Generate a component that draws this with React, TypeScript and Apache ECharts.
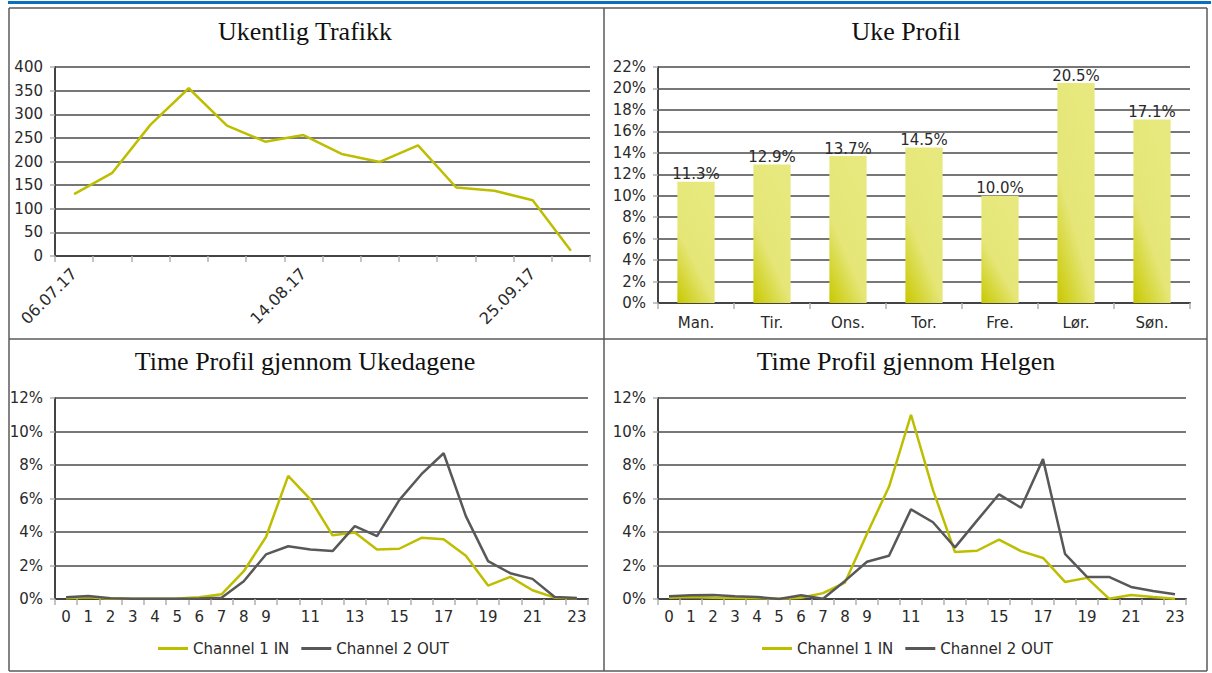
import React, { useEffect, useRef } from 'react';
import * as echarts from 'echarts';

// ---------- data ----------
const weekDates = ['06.07.17', '10.07.17', '17.07.17', '24.07.17', '31.07.17', '07.08.17', '14.08.17', '21.08.17', '28.08.17', '04.09.17', '11.09.17', '18.09.17', '25.09.17', '02.10.17'];
const weeklyTraffic = [131, 176, 278, 355, 276, 242, 256, 216, 199, 234, 145, 138, 118, 11];

const weekdays = ['Man.', 'Tir.', 'Ons.', 'Tor.', 'Fre.', 'Lør.', 'Søn.'];
const weekProfile = [11.3, 12.9, 13.7, 14.5, 10.0, 20.5, 17.1];

const hours = ['0', '1', '2', '3', '4', '5', '6', '7', '8', '9', '10', '11', '12', '13', '14', '15', '16', '17', '18', '19', '20', '21', '22', '23'];
const weekdayIn = [0.05, 0.1, 0.02, 0.02, 0.02, 0.03, 0.1, 0.28, 1.66, 3.7, 7.35, 5.95, 3.8, 3.97, 2.95, 3.0, 3.65, 3.57, 2.58, 0.8, 1.32, 0.52, 0.08, 0.04];
const weekdayOut = [0.1, 0.18, 0.04, 0.02, 0.02, 0.02, 0.03, 0.08, 1.06, 2.66, 3.15, 2.95, 2.86, 4.35, 3.75, 5.9, 7.45, 8.7, 4.95, 2.26, 1.54, 1.2, 0.12, 0.06];
const weekendIn = [0.08, 0.12, 0.08, 0.06, 0.05, 0.02, 0.08, 0.35, 0.98, 3.9, 6.7, 11.0, 6.5, 2.8, 2.88, 3.55, 2.86, 2.45, 1.02, 1.26, 0.02, 0.24, 0.12, 0.02];
const weekendOut = [0.16, 0.22, 0.24, 0.16, 0.12, 0.0, 0.22, 0.02, 1.08, 2.22, 2.58, 5.35, 4.58, 3.08, 4.68, 6.25, 5.45, 8.35, 2.7, 1.32, 1.32, 0.72, 0.48, 0.28];

const seriesNames = ['Channel 1 IN', 'Channel 2 OUT'];
const titles = ['Ukentlig Trafikk', 'Uke Profil', 'Time Profil gjennom Ukedagene', 'Time Profil gjennom Helgen'];

// ---------- styles ----------
const FONT = 'DejaVu Sans';
const YELLOW = '#bebe00';
const GRAY = '#585858';
const labelStyle = { color: '#2a2a2a', fontSize: 15, fontFamily: FONT };
const splitLine = { show: true, lineStyle: { color: '#4a4a4a', width: 1.5 } };
const axisLineDark = { show: true, lineStyle: { color: '#444', width: 2 } };
const tickGray = { show: true, length: 6, lineStyle: { color: '#b0b0b0', width: 1.5 } };

const grids = [
  { left: 55, top: 67, width: 535, height: 189 },
  { left: 658, top: 67, width: 532, height: 236 },
  { left: 55, top: 398, width: 533, height: 201 },
  { left: 658, top: 398, width: 528, height: 201 },
];

const hourInterval = (i: number) => i <= 9 || i % 2 === 1;

function buildOption() {
  const titleGraphics = [
    { x: 305, y: 18, text: titles[0] },
    { x: 906, y: 18, text: titles[1] },
    { x: 305, y: 348, text: titles[2] },
    { x: 906, y: 348, text: titles[3] },
  ].map((t) => ({
    type: 'text',
    x: t.x,
    y: t.y,
    silent: true,
    style: {
      text: t.text,
      fill: '#111',
      font: '26px "Liberation Serif"',
      textAlign: 'center',
      textVerticalAlign: 'top',
    },
  }));

  const borderColor = '#5a5a5a';
  const lines = [
    [9, 8, 1207, 8],
    [9, 8, 9, 671],
    [1207, 8, 1207, 671],
    [604, 8, 604, 671],
    [9, 339, 1207, 339],
    [9, 671, 1207, 671],
  ].map(([x1, y1, x2, y2]) => ({
    type: 'line',
    silent: true,
    shape: { x1, y1, x2, y2 },
    style: { stroke: borderColor, lineWidth: 1.5 },
  }));

  const barGradient = new echarts.graphic.LinearGradient(0.6, 0, 0, 1, [
    { offset: 0, color: '#e7e97e' },
    { offset: 0.55, color: '#e5e677' },
    { offset: 1, color: '#c8c800' },
  ]);

  return {
    animation: false,
    backgroundColor: '#ffffff',
    grid: grids.map((g) => ({ ...g, containLabel: false })),
    graphic: [
      {
        type: 'rect',
        silent: true,
        shape: { x: 8, y: 1, width: 1203, height: 3 },
        style: { fill: '#0a6fbd' },
      },
      ...lines,
      ...titleGraphics,
    ],
    legend: [
      {
        left: 153,
        top: 636,
        data: seriesNames,
        icon: 'rect',
        itemWidth: 30,
        itemHeight: 3,
        itemGap: 12,
        textStyle: { ...labelStyle },
      },
      {
        left: 757,
        top: 636,
        data: seriesNames,
        icon: 'rect',
        itemWidth: 30,
        itemHeight: 3,
        itemGap: 12,
        textStyle: { ...labelStyle },
      },
    ],
    xAxis: [
      {
        type: 'category',
        gridIndex: 0,
        data: weekDates,
        boundaryGap: true,
        axisLine: axisLineDark,
        axisTick: { ...tickGray, interval: 0 },
        axisLabel: { ...labelStyle, fontSize: 16, rotate: 45, interval: 5, margin: 15 },
      },
      {
        type: 'category',
        gridIndex: 1,
        data: weekdays,
        axisLine: axisLineDark,
        axisTick: { ...tickGray, interval: 0 },
        axisLabel: { ...labelStyle, interval: 0, margin: 12 },
      },
      {
        type: 'category',
        gridIndex: 2,
        data: hours,
        axisLine: axisLineDark,
        axisTick: { ...tickGray, interval: 0 },
        axisLabel: { ...labelStyle, interval: hourInterval, margin: 10 },
      },
      {
        type: 'category',
        gridIndex: 3,
        data: hours,
        axisLine: axisLineDark,
        axisTick: { ...tickGray, interval: 0 },
        axisLabel: { ...labelStyle, interval: hourInterval, margin: 10 },
      },
    ],
    yAxis: [
      {
        type: 'value',
        gridIndex: 0,
        min: 0,
        max: 400,
        interval: 50,
        axisLine: axisLineDark,
        axisTick: { ...tickGray, length: 5 },
        axisLabel: { ...labelStyle, margin: 12 },
        splitLine,
      },
      {
        type: 'value',
        gridIndex: 1,
        min: 0,
        max: 22,
        interval: 2,
        axisLine: axisLineDark,
        axisTick: { ...tickGray, length: 5 },
        axisLabel: { ...labelStyle, margin: 12, formatter: '{value}%' },
        splitLine,
      },
      {
        type: 'value',
        gridIndex: 2,
        min: 0,
        max: 12,
        interval: 2,
        axisLine: axisLineDark,
        axisTick: { ...tickGray, length: 5 },
        axisLabel: { ...labelStyle, margin: 12, formatter: '{value}%' },
        splitLine,
      },
      {
        type: 'value',
        gridIndex: 3,
        min: 0,
        max: 12,
        interval: 2,
        axisLine: axisLineDark,
        axisTick: { ...tickGray, length: 5 },
        axisLabel: { ...labelStyle, margin: 12, formatter: '{value}%' },
        splitLine,
      },
    ],
    series: [
      {
        type: 'line',
        name: 'Ukentlig Trafikk',
        xAxisIndex: 0,
        yAxisIndex: 0,
        data: weeklyTraffic,
        symbol: 'none',
        lineStyle: { color: YELLOW, width: 2.5 },
        itemStyle: { color: YELLOW },
      },
      {
        type: 'bar',
        name: 'Uke Profil',
        xAxisIndex: 1,
        yAxisIndex: 1,
        data: weekProfile,
        barWidth: '49%',
        itemStyle: { color: barGradient },
        label: {
          show: true,
          position: 'top',
          distance: 0,
          ...labelStyle,
          formatter: (p: any) => `${Number(p.value).toFixed(1)}%`,
        },
      },
      {
        type: 'line',
        name: seriesNames[0],
        xAxisIndex: 2,
        yAxisIndex: 2,
        data: weekdayIn,
        symbol: 'none',
        lineStyle: { color: YELLOW, width: 2.5 },
        itemStyle: { color: YELLOW },
      },
      {
        type: 'line',
        name: seriesNames[1],
        xAxisIndex: 2,
        yAxisIndex: 2,
        data: weekdayOut,
        symbol: 'none',
        lineStyle: { color: GRAY, width: 2.5 },
        itemStyle: { color: GRAY },
      },
      {
        type: 'line',
        name: seriesNames[0],
        xAxisIndex: 3,
        yAxisIndex: 3,
        data: weekendIn,
        symbol: 'none',
        lineStyle: { color: YELLOW, width: 2.5 },
        itemStyle: { color: YELLOW },
      },
      {
        type: 'line',
        name: seriesNames[1],
        xAxisIndex: 3,
        yAxisIndex: 3,
        data: weekendOut,
        symbol: 'none',
        lineStyle: { color: GRAY, width: 2.5 },
        itemStyle: { color: GRAY },
      },
    ],
  };
}

export default function App() {
  const ref = useRef<HTMLDivElement>(null);
  useEffect(() => {
    if (!ref.current) return;
    const chart = echarts.init(ref.current, undefined, { renderer: 'svg' });
    chart.setOption(buildOption() as any);
    return () => {
      chart.dispose();
    };
  }, []);
  return (
    <div
      ref={ref}
      style={{ position: 'absolute', left: 0, top: 0, width: 1212, height: 673, background: '#fff' }}
    />
  );
}
